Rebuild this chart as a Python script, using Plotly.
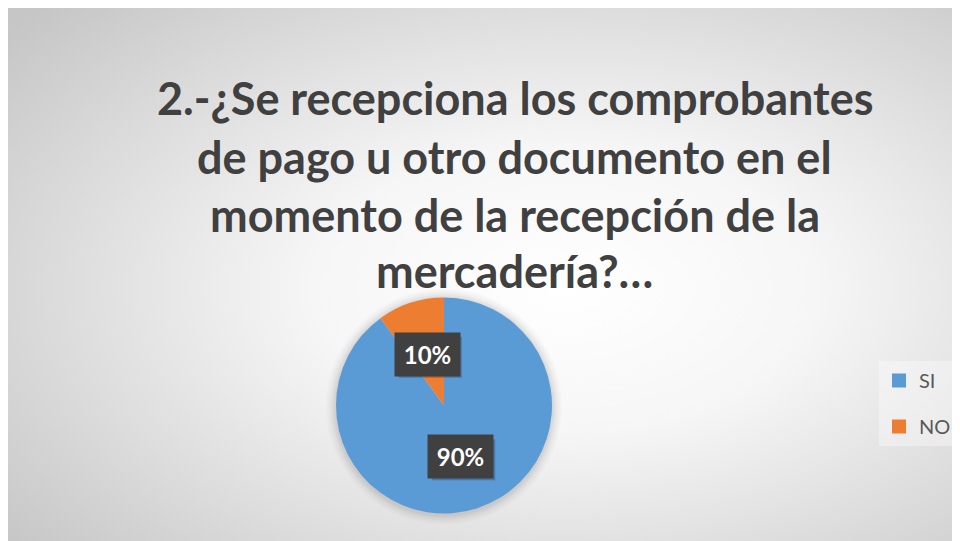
import math
import plotly.graph_objects as go

# ---- data ----
labels = ["SI", "NO"]
values = [90, 10]
colors = ["#5B9BD5", "#ED7D31"]
title_lines = [
    "2.-¿Se recepciona los comprobantes",
    "de pago u otro documento en el",
    "momento de la recepción de la",
    "mercadería?…",
]

W, H = 960, 541
OX, OY = 8, 8  # page margin offset of the figure in the window

# pie geometry (screen pixels)
PX0, PX1 = 336, 552
PY0, PY1 = 297, 514  # top, bottom
cx = (PX0 + PX1) / 2
cy = (PY0 + PY1) / 2
R = min(PX1 - PX0, PY1 - PY0) / 2


def px(x):
    return (x - OX) / W


def py(y):
    return 1 - (y - OY) / H


bg_svg = (
    "data:image/svg+xml;utf8,"
    "<svg xmlns='http://www.w3.org/2000/svg' width='960' height='541'>"
    "<defs><radialGradient id='g' cx='0.58' cy='0.52' r='0.75' fx='0.58' fy='0.52'>"
    "<stop offset='0' stop-color='%23ffffff'/>"
    "<stop offset='0.35' stop-color='%23f6f6f6'/>"
    "<stop offset='1' stop-color='%23c6c6c6'/>"
    "</radialGradient></defs>"
    "<rect width='960' height='541' fill='url(%23g)'/></svg>"
)

fig = go.Figure()
fig.add_trace(
    go.Pie(
        labels=labels,
        values=values,
        marker=dict(colors=colors, line=dict(width=0)),
        sort=False,
        direction="clockwise",
        rotation=0,
        textinfo="none",
        hoverinfo="label+percent",
        showlegend=False,
        domain=dict(x=[px(PX0), px(PX1)], y=[py(PY1), py(PY0)]),
    )
)

# legend entries (one per slice, same labels/colours as the pie)
for i, (lab, col) in enumerate(zip(labels, colors)):
    fig.add_trace(
        go.Scatter(
            x=[None], y=[None], mode="markers", name=lab,
            marker=dict(symbol="square", size=14, color=col),
            legendgroup=f"g{i}", showlegend=True, hoverinfo="skip",
        )
    )

annotations = []
# title lines
line_y = [98, 157, 215, 271]
for t, yy in zip(title_lines, line_y):
    annotations.append(
        dict(
            text=t, x=px(515), y=py(yy), xref="paper", yref="paper",
            xanchor="center", yanchor="middle", showarrow=False,
            font=dict(family="Lato", size=45, color="#404040", weight="bold"),
        )
    )

shapes = []
# soft shadow around the pie
for i, a in enumerate([0.035, 0.03, 0.025, 0.02, 0.015]):
    r = R + 2 + 2 * i
    shapes.append(
        dict(
            type="circle", xref="paper", yref="paper", layer="below",
            x0=px(cx - r), x1=px(cx + r), y0=py(cy + r + 1), y1=py(cy - r + 1),
            fillcolor=f"rgba(0,0,0,{a})", line=dict(width=0),
        )
    )

# data labels at half radius along slice bisector
BW, BH = 63, 41
total = sum(values)
start = 0.0
for lab, v in zip(labels, values):
    frac = v / total
    mid = (start + frac / 2) * 2 * math.pi
    start += frac
    lx = cx + 0.5 * R * math.sin(mid)
    ly = cy - 0.5 * R * math.cos(mid)
    txt = f"{round(100 * frac)}%"
    shapes.append(
        dict(
            type="rect", xref="paper", yref="paper", layer="above",
            x0=px(lx - BW / 2 + 3), x1=px(lx + BW / 2 + 3),
            y0=py(ly + BH / 2 + 3), y1=py(ly - BH / 2 + 3),
            fillcolor="rgba(0,0,0,0.22)", line=dict(width=0),
        )
    )
    annotations.append(
        dict(
            text=txt, x=px(lx), y=py(ly), xref="paper", yref="paper",
            xanchor="center", yanchor="middle",
            showarrow=False, width=BW, height=BH, bgcolor="#404040",
            font=dict(family="Lato", size=24, color="#ffffff", weight="bold"),
        )
    )

fig.update_layout(
    width=W,
    height=H,
    margin=dict(l=0, r=0, t=0, b=0),
    paper_bgcolor="#ffffff",
    plot_bgcolor="rgba(0,0,0,0)",
    xaxis=dict(visible=False),
    yaxis=dict(visible=False),
    images=[
        dict(
            source=bg_svg, xref="paper", yref="paper",
            x=0, y=1, sizex=1, sizey=1,
            xanchor="left", yanchor="top", sizing="stretch", layer="below",
        )
    ],
    shapes=shapes,
    annotations=annotations,
    showlegend=True,
    legend=dict(
        x=px(879), y=py(361), xanchor="left", yanchor="top",
        bgcolor="rgba(255,255,255,0.35)", borderwidth=0,
        font=dict(family="Lato", size=20, color="#595959"),
        tracegroupgap=17, itemwidth=30,
    ),
)

fig.write_html("out.html")
